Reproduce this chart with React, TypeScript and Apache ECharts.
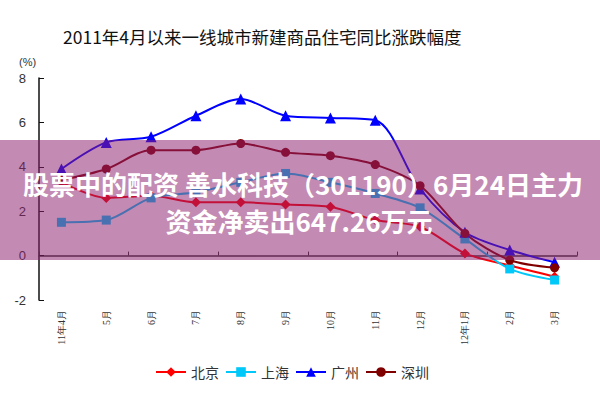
import React, { useEffect, useRef } from "react";
import * as echarts from "echarts";

const categories = ["11年4月", "5月", "6月", "7月", "8月", "9月", "10月", "11月", "12月", "12年1月", "2月", "3月"];
const beijing = [3.3, 2.6, 2.7, 2.4, 2.4, 2.3, 2.2, 1.6, 1.3, 0.1, -0.45, -0.95];
const shanghai = [1.5, 1.6, 2.6, 2.85, 3.3, 3.7, 3.3, 2.8, 2.15, 0.75, -0.6, -1.1];
const guangzhou = [3.9, 5.1, 5.35, 6.3, 7.05, 6.3, 6.2, 6.1, 3.0, 1.05, 0.25, -0.3];
const shenzhen = [3.4, 3.9, 4.75, 4.75, 5.05, 4.65, 4.5, 4.1, 3.15, 1.0, -0.2, -0.55];
const yTicks = { min: -2, max: 8, interval: 2 };

const CJK = "'Noto Sans CJK SC', sans-serif";

export default function App() {
  const ref = useRef<HTMLDivElement>(null);
  useEffect(() => {
    if (!ref.current) return;
    const chart = echarts.init(ref.current, null, { renderer: "svg" });
    const mk = (name: string, data: number[], color: string, symbol: string, size: number) => ({
      name,
      type: "line",
      data,
      smooth: 0.3,
      symbol,
      symbolSize: size,
      showSymbol: true,
      lineStyle: { color, width: 2 },
      itemStyle: { color },
      z: 3,
    });
    chart.setOption({
      animation: false,
      backgroundColor: "#ffffff",
      title: {
        text: "2011年4月以来一线城市新建商品住宅同比涨跌幅度",
        left: 58,
        top: 23,
        textStyle: { fontFamily: CJK, fontSize: 17.5, fontWeight: "normal", color: "#111" },
      },
      grid: { left: 39, right: 23, top: 78, bottom: 100 },
      legend: {
        top: 360,
        left: 150,
        itemWidth: 30,
        itemHeight: 12,
        itemGap: 6,
        textStyle: { fontFamily: CJK, fontSize: 14, color: "#333" },
        data: ["北京", "上海", "广州", "深圳"],
      },
      xAxis: [
        {
          type: "category",
          data: categories,
          boundaryGap: true,
          axisLine: { show: false, onZero: false },
          axisTick: { show: false },
          axisLabel: {
            rotate: 90,
            interval: 0,
            margin: 10,
            fontSize: 10,
            color: "#333",
            fontFamily: "'Liberation Serif', serif",
          },
        },
        {
          type: "category",
          data: categories,
          boundaryGap: true,
          position: "bottom",
          axisLine: { show: true, onZero: true, lineStyle: { color: "#333", width: 1.5 } },
          axisTick: { show: true, inside: true, length: 4, lineStyle: { color: "#333" } },
          axisLabel: { show: false },
        },
      ],
      yAxis: {
        type: "value",
        min: yTicks.min,
        max: yTicks.max,
        interval: yTicks.interval,
        axisLine: { show: true, lineStyle: { color: "#111", width: 1.5 } },
        axisTick: { show: true, inside: true, length: 5, lineStyle: { color: "#111" } },
        splitLine: { show: false },
        axisLabel: { margin: 13, fontSize: 13, color: "#333", fontFamily: "'Liberation Sans', Arial, sans-serif" },
      },
      graphic: [
        {
          type: "text",
          left: 19,
          top: 56,
          style: { text: "(%)", fontSize: 11, fill: "#333", fontFamily: "'Liberation Sans', sans-serif" },
        },
        {
          type: "rect",
          shape: { x: 0, y: 140, width: 600, height: 120 },
          style: { fill: "rgba(140,31,110,0.52)" },
          z: 100,
        },
        {
          type: "text",
          x: 303,
          y: 183,
          style: {
            text: "股票中的配资 善水科技（301190）6月24日主力",
            fontSize: 26,
            fontWeight: "bold",
            fill: "#ffffff",
            fontFamily: CJK,
            align: "center",
            verticalAlign: "middle",
          },
          z: 101,
        },
        {
          type: "text",
          x: 299,
          y: 220,
          style: {
            text: "资金净卖出647.26万元",
            fontSize: 26,
            fontWeight: "bold",
            fill: "#ffffff",
            fontFamily: CJK,
            align: "center",
            verticalAlign: "middle",
          },
          z: 101,
        },
      ],
      series: [
        mk("北京", beijing, "#ff0000", "diamond", 10),
        mk("上海", shanghai, "#00c8f8", "rect", 9),
        mk("广州", guangzhou, "#0000ff", "triangle", 11),
        mk("深圳", shenzhen, "#800000", "circle", 9),
      ],
    });
    return () => chart.dispose();
  }, []);
  return <div ref={ref} style={{ position: "fixed", left: 0, top: 0, width: 600, height: 400 }} />;
}
